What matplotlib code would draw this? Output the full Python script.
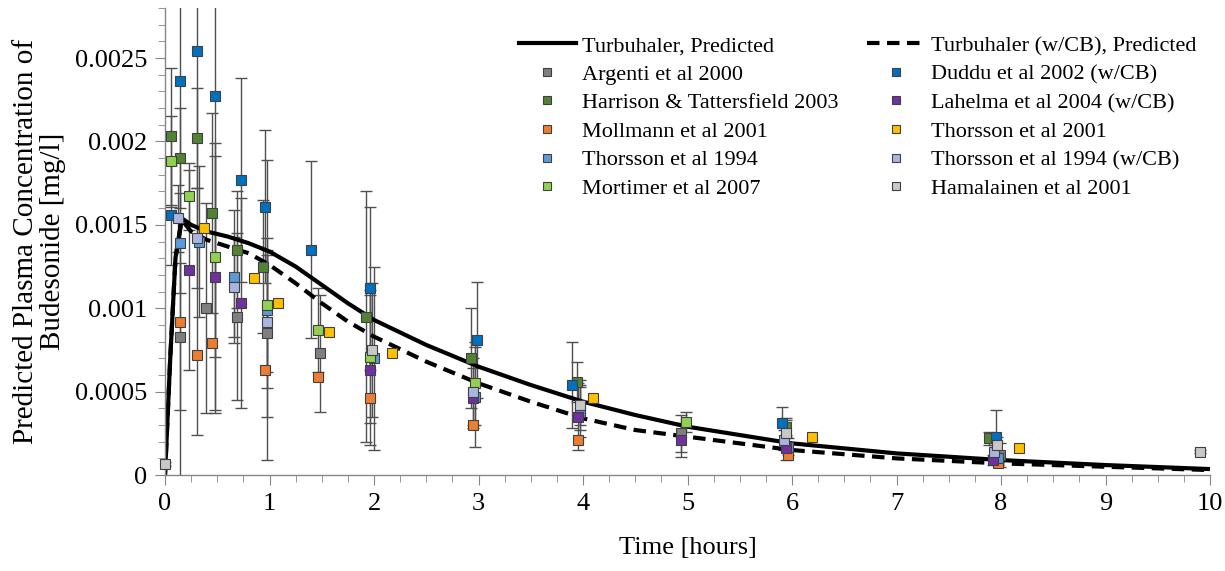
import matplotlib.pyplot as plt
from matplotlib.lines import Line2D
from matplotlib.ticker import MultipleLocator

plt.rcParams['font.family'] = ['Liberation Serif', 'DejaVu Serif']

# Predicted plasma concentration [mg/l] vs time [h]
pred_t = [0, 0.05, 0.1, 0.16, 0.25, 0.4, 0.6, 0.8, 1.0, 1.25, 1.5, 1.75, 2.0,
          2.5, 3.0, 3.5, 4.0, 4.5, 5.0, 5.5, 6.0, 7.0, 8.0, 9.0, 10.0]
pred_conc = [0, 0.0007, 0.0013, 0.00154, 0.0015, 0.00146, 0.00143, 0.00139, 0.00134,
             0.00125, 0.00114, 0.00103, 0.00093, 0.00078, 0.00065, 0.00054, 0.00044,
             0.00036, 0.00029, 0.00024, 0.00019, 0.00013, 0.00009, 0.00006, 0.000036]
pred_cb_t = pred_t
pred_cb_conc = [0, 0.0007, 0.0013, 0.00153, 0.00146, 0.00141, 0.00137, 0.00133, 0.00126,
                0.00115, 0.00103, 0.00092, 0.00083, 0.00068, 0.00055, 0.00044, 0.00034,
                0.00027, 0.00023, 0.00019, 0.00015, 0.0001, 0.00007, 0.00005, 0.00003]

# Measured data from the literature
argenti_t = [0.14, 0.39, 0.69, 0.98, 1.48, 4.94, 7.99]
argenti_c = [0.00083, 0.00100, 0.00095, 0.00085, 0.00073, 0.00025, 0.00012]
argenti_err = [0.00044, 0.00063, 0.0005, 0.0005, 0.00035, 0.00011, 0.00007]

harrison_t = [0.06, 0.14, 0.31, 0.45, 0.69, 0.94, 1.92, 2.93, 3.94, 5.94, 7.88]
harrison_c = [0.00203, 0.0019, 0.00202, 0.00157, 0.00135, 0.00125, 0.00095, 0.0007,
              0.00056, 0.00029, 0.00022]
harrison_err = [0.00041, 0.0003, 0.0003, 0.0006, 0.00035, 0.0004, 0.00075, 0.0003,
                0.00012, 0.00005, 0.00004]

mollmann_t = [0.14, 0.31, 0.45, 0.96, 1.46, 1.96, 2.95, 3.95, 5.96, 7.97]
mollmann_c = [0.00092, 0.00072, 0.00079, 0.00063, 0.00059, 0.00046, 0.0003, 0.00021,
              0.00012, 0.00007]

thorsson94_t = [0.14, 0.33, 0.66, 0.98, 2.0, 2.97, 3.97, 5.96, 7.97]
thorsson94_c = [0.00139, 0.0014, 0.00119, 0.00099, 0.0007, 0.00047, 0.00038, 0.00017, 0.0001]
thorsson94_err = [0.0003, 0.00045, 0.0004, 0.0009, 0.00055, 0.0003, 0.00015, 0.00005, 0.00004]

mortimer_t = [0.06, 0.23, 0.48, 0.98, 1.46, 1.96, 2.97, 3.97, 4.99]
mortimer_c = [0.00188, 0.00167, 0.00131, 0.00102, 0.00087, 0.00071, 0.00055, 0.00042, 0.00032]
mortimer_err = [0.00027, 0.0002, 0.0006, 0.0004, 0.00025, 0.0004, 0.00025, 0.00012, 0.00006]

duddu_t = [0.06, 0.14, 0.31, 0.48, 0.73, 0.96, 1.40, 1.96, 2.99, 3.89, 5.90, 7.95]
duddu_c = [0.00156, 0.00236, 0.00254, 0.00227, 0.00177, 0.00161, 0.00135, 0.00112,
           0.00081, 0.00054, 0.00031, 0.00023]
duddu_err = [0.0003, 0.0025, 0.0023, 0.0019, 0.00061, 0.00046, 0.00053, 0.00049,
             0.00035, 0.00026, 0.0001, 0.00016]

lahelma_t = [0.23, 0.48, 0.73, 1.96, 2.95, 3.95, 4.94, 5.94, 7.92]
lahelma_c = [0.00123, 0.00119, 0.00103, 0.00063, 0.00046, 0.00035, 0.00021, 0.00016, 0.00009]
lahelma_err = [0.0006, 0.0008, 0.00063, 0.00045, 0.00018, 0.0002, 0.0001, 0.00007, 0.00003]

thorsson01_t = [0.37, 0.85, 1.08, 1.57, 2.17, 4.10, 6.19, 8.17]
thorsson01_c = [0.00148, 0.00118, 0.00103, 0.00086, 0.00073, 0.00046, 0.00023, 0.00016]

thorsson94cb_t = [0.12, 0.31, 0.66, 0.98, 2.95, 5.92, 7.93]
thorsson94cb_c = [0.00154, 0.00142, 0.00113, 0.00092, 0.0005, 0.00021, 0.00014]
thorsson94cb_err = [0.0002, 0.0003, 0.0003, 0.0004, 0.0002, 0.00006, 0.00004]

hamalainen_t = [0.0, 1.98, 3.97, 5.94, 7.96, 9.90]
hamalainen_c = [0.000066, 0.00075, 0.00042, 0.00025, 0.00018, 0.00014]
hamalainen_err = [0.00001, 0.0004, 0.00015, 0.00008, 0.00005, 0.00001]

ytick_vals = [0, 0.0005, 0.001, 0.0015, 0.002, 0.0025]
ytick_labels = ['0', '0.0005', '0.001', '0.0015', '0.002', '0.0025']

studies = [
    ('Argenti et al 2000', argenti_t, argenti_c, argenti_err, '#7f7f7f'),
    ('Harrison & Tattersfield 2003', harrison_t, harrison_c, harrison_err, '#548235'),
    ('Mollmann et al 2001', mollmann_t, mollmann_c, None, '#ed7d31'),
    ('Thorsson et al 1994', thorsson94_t, thorsson94_c, thorsson94_err, '#5b9bd5'),
    ('Mortimer et al 2007', mortimer_t, mortimer_c, mortimer_err, '#92d050'),
    ('Duddu et al 2002 (w/CB)', duddu_t, duddu_c, duddu_err, '#0070c0'),
    ('Lahelma et al 2004 (w/CB)', lahelma_t, lahelma_c, lahelma_err, '#7030a0'),
    ('Thorsson et al 2001', thorsson01_t, thorsson01_c, None, '#ffc000'),
    ('Thorsson et al 1994 (w/CB)', thorsson94cb_t, thorsson94cb_c, thorsson94cb_err, '#aab4e0'),
    ('Hamalainen et al 2001', hamalainen_t, hamalainen_c, hamalainen_err, '#c8c8c8'),
]

fig, ax = plt.subplots(figsize=(12.25, 5.71), dpi=100)
fig.subplots_adjust(left=0.1347, right=0.9878, bottom=0.168, top=0.986)

dash = (0, (3, 1.8))
ax.plot(pred_t, pred_conc, color='black', lw=3, zorder=2)
ax.plot(pred_cb_t, pred_cb_conc, color='black', lw=3, ls=dash, zorder=2)

handles = {}
for name, t, c, err, col in studies:
    if err is not None:
        ax.errorbar(t, c, yerr=err, fmt='none', ecolor='#505050', elinewidth=1,
                    capsize=4.5, capthick=1, zorder=1)
    ax.plot(t, c, 's', ms=7.5, mfc=col, mec='#404040', mew=0.8, zorder=3, clip_on=False)
    handles[name] = Line2D([], [], ls='none', marker='s', ms=6, mfc=col, mec='#404040', mew=0.8)

line_solid = Line2D([], [], color='black', lw=3)
line_dash = Line2D([], [], color='black', lw=3, ls=dash)

order = ['Argenti et al 2000', 'Harrison & Tattersfield 2003', 'Mollmann et al 2001',
         'Thorsson et al 1994', 'Mortimer et al 2007']
order2 = ['Duddu et al 2002 (w/CB)', 'Lahelma et al 2004 (w/CB)', 'Thorsson et al 2001',
          'Thorsson et al 1994 (w/CB)', 'Hamalainen et al 2001']
leg_handles = [line_solid] + [handles[n] for n in order] + [line_dash] + [handles[n] for n in order2]
leg_labels = ['Turbuhaler, Predicted'] + order + ['Turbuhaler (w/CB), Predicted'] + order2
ax.legend(leg_handles, leg_labels, ncol=2, loc='upper right', bbox_to_anchor=(0.995, 0.96),
          frameon=False, fontsize=16, handlelength=2.6, handletextpad=0.25,
          columnspacing=1.3, labelspacing=0.36, borderaxespad=0)

ax.set_xlim(0, 10)
ax.set_ylim(0, 0.0028)
ax.set_xticks(range(0, 11))
ax.xaxis.set_minor_locator(MultipleLocator(0.25))
ax.set_yticks(ytick_vals)
ax.set_yticklabels(ytick_labels)
ax.yaxis.set_minor_locator(MultipleLocator(0.0001))

for side in ['top', 'right']:
    ax.spines[side].set_visible(False)
for side in ['left', 'bottom']:
    ax.spines[side].set_color('#868686')
    ax.spines[side].set_linewidth(1)
ax.tick_params(which='both', direction='out', color='#868686', labelsize=19, pad=6)
ax.tick_params(which='major', length=7)
ax.tick_params(which='minor', length=5)

ax.set_xlabel('Time [hours]', fontsize=19, labelpad=16)
ax.set_ylabel('Predicted Plasma Concentration of\nBudesonide [mg/l]', fontsize=21,
              labelpad=6, linespacing=1.05)

plt.savefig('out.png', dpi=100)
